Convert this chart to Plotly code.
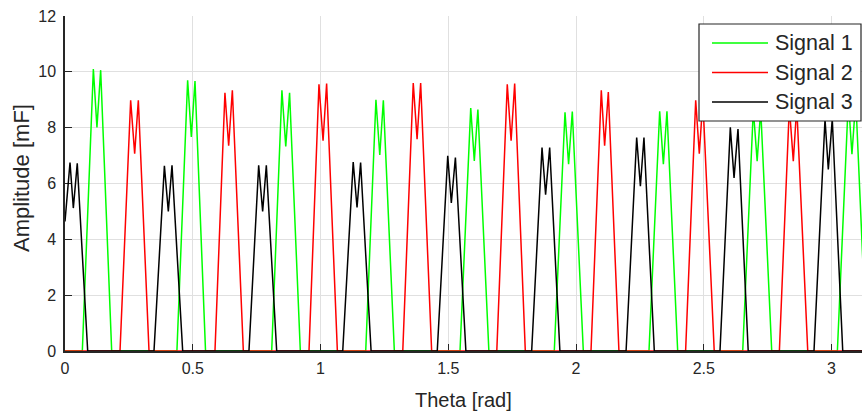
import plotly.graph_objects as go

# Signal vertices: theta [rad] and amplitude [mF]
theta_1 = [0.0,
           0.0678, 0.111, 0.125, 0.1396, 0.1827,
           0.438, 0.480, 0.4945, 0.5088, 0.550,
           0.809, 0.849, 0.864, 0.879, 0.921,
           1.177, 1.217, 1.232, 1.246, 1.289,
           1.546, 1.588, 1.602, 1.616, 1.659,
           1.915, 1.957, 1.971, 1.9855, 2.0286,
           2.2857, 2.3275, 2.342, 2.356, 2.398,
           2.6525, 2.694, 2.709, 2.723, 2.766,
           3.023, 3.066, 3.080, 3.095, 3.138]
amp_1 = [0.0,
         0.0, 10.1, 8.01, 10.06, 0.0,
         0.0, 9.7, 7.67, 9.67, 0.0,
         0.0, 9.34, 7.33, 9.25, 0.0,
         0.0, 9.0, 7.02, 8.98, 0.0,
         0.0, 8.7, 6.81, 8.65, 0.0,
         0.0, 8.55, 6.69, 8.58, 0.0,
         0.0, 8.59, 6.69, 8.59, 0.0,
         0.0, 8.65, 6.8, 8.65, 0.0,
         0.0, 9.0, 7.05, 9.0, 0.0]

theta_2 = [0.0,
           0.2153, 0.257, 0.2727, 0.287, 0.3288,
           0.587, 0.626, 0.6406, 0.655, 0.698,
           0.955, 0.994, 1.010, 1.024, 1.066,
           1.322, 1.363, 1.378, 1.392, 1.435,
           1.690, 1.731, 1.746, 1.760, 1.8016,
           2.0587, 2.099, 2.112, 2.1265, 2.168,
           2.429, 2.4685, 2.4826, 2.4965, 2.541,
           2.796, 2.835, 2.8505, 2.864, 2.907,
           3.14]
amp_2 = [0.0,
         0.0, 8.98, 7.07, 8.98, 0.0,
         0.0, 9.25, 7.35, 9.34, 0.0,
         0.0, 9.55, 7.53, 9.58, 0.0,
         0.0, 9.6, 7.59, 9.6, 0.0,
         0.0, 9.55, 7.53, 9.58, 0.0,
         0.0, 9.34, 7.35, 9.28, 0.0,
         0.0, 8.98, 7.07, 8.98, 0.0,
         0.0, 8.75, 6.8, 8.75, 0.0,
         0.0]

theta_3 = [0.0, 0.0196, 0.0326, 0.048, 0.0888,
           0.3483, 0.389, 0.4044, 0.4188, 0.4606,
           0.720, 0.758, 0.7736, 0.788, 0.8285,
           1.087, 1.128, 1.143, 1.157, 1.198,
           1.457, 1.498, 1.512, 1.528, 1.569,
           1.8265, 1.867, 1.881, 1.897, 1.937,
           2.196, 2.2375, 2.252, 2.266, 2.3065,
           2.5636, 2.604, 2.6186, 2.634, 2.674,
           2.9315, 2.9746, 2.9875, 3.003, 3.044,
           3.14]
amp_3 = [4.64, 6.75, 5.12, 6.72, 0.0,
         0.0, 6.63, 5.0, 6.65, 0.0,
         0.0, 6.65, 5.0, 6.65, 0.0,
         0.0, 6.77, 5.14, 6.75, 0.0,
         0.0, 6.99, 5.3, 6.93, 0.0,
         0.0, 7.29, 5.6, 7.29, 0.0,
         0.0, 7.65, 5.9, 7.65, 0.0,
         0.0, 8.01, 6.2, 7.95, 0.0,
         0.0, 8.3, 6.5, 8.3, 0.0,
         0.0]

series_names = ["Signal 1", "Signal 2", "Signal 3"]
series_colors = ["#00ff00", "#ff0000", "#000000"]

x_ticks = [0, 0.5, 1, 1.5, 2, 2.5, 3]
x_tick_text = ["0", "0.5", "1", "1.5", "2", "2.5", "3"]
y_ticks = [0, 2, 4, 6, 8, 10, 12]

W, H = 862, 412
L, R, T, B = 65, 0, 16, 61
PW, PH = W - L - R, H - T - B
X_MAX = PW / 255.5

AX = "#262626"
FONT = "Liberation Sans, Arial, sans-serif"


def px(xp):
    return (xp - L) / PW


def py(yp):
    return (T + PH - yp) / PH


fig = go.Figure()
for th, amp, col, name in zip([theta_1, theta_2, theta_3],
                              [amp_1, amp_2, amp_3],
                              series_colors, series_names):
    fig.add_trace(go.Scatter(x=th, y=amp, mode="lines", name=name,
                             line=dict(color=col, width=1.5),
                             showlegend=False))

axis_common = dict(
    showgrid=True, gridcolor="#e0e0e0", gridwidth=1,
    showline=True, linecolor=AX, linewidth=1.5,
    ticks="inside", ticklen=7, tickcolor=AX, tickwidth=1,
    zeroline=False, mirror=False, layer="below traces",
    tickfont=dict(family=FONT, size=16, color=AX),
)

fig.update_xaxes(range=[0, X_MAX], tickvals=x_ticks, ticktext=x_tick_text,
                 ticklabelstandoff=2, **axis_common)
fig.update_yaxes(range=[0, 12], tickvals=y_ticks, ticklabelstandoff=4,
                 **axis_common)

# Legend box drawn in paper coordinates
lx0, lx1, ly0, ly1 = 699, 861, 24, 121
shapes = [dict(type="rect", xref="paper", yref="paper",
               x0=px(lx0), x1=px(lx1), y0=py(ly1), y1=py(ly0),
               fillcolor="white", line=dict(color=AX, width=1.2), layer="above")]
annotations = []
row_y = [43, 72.5, 102]
for ry, col, name in zip(row_y, series_colors, series_names):
    shapes.append(dict(type="line", xref="paper", yref="paper",
                       x0=px(712), x1=px(768), y0=py(ry), y1=py(ry),
                       line=dict(color=col, width=1.5), layer="above"))
    annotations.append(dict(xref="paper", yref="paper", x=px(773), y=py(ry),
                            text=name, showarrow=False, xanchor="left",
                            yanchor="middle",
                            font=dict(family=FONT, size=21.5, color=AX)))

annotations.append(dict(xref="paper", yref="paper", x=px(463), y=py(400),
                        text="Theta [rad]", showarrow=False,
                        xanchor="center", yanchor="middle",
                        font=dict(family=FONT, size=20, color=AX)))
annotations.append(dict(xref="paper", yref="paper", x=px(21), y=py(178),
                        text="Amplitude [mF]", showarrow=False, textangle=-90,
                        xanchor="center", yanchor="middle",
                        font=dict(family=FONT, size=22, color=AX)))

fig.update_layout(
    width=W, height=H,
    margin=dict(l=L, r=R, t=T, b=B, pad=0),
    paper_bgcolor="white", plot_bgcolor="white",
    shapes=shapes, annotations=annotations,
    showlegend=False,
)

fig.write_html("out.html")
